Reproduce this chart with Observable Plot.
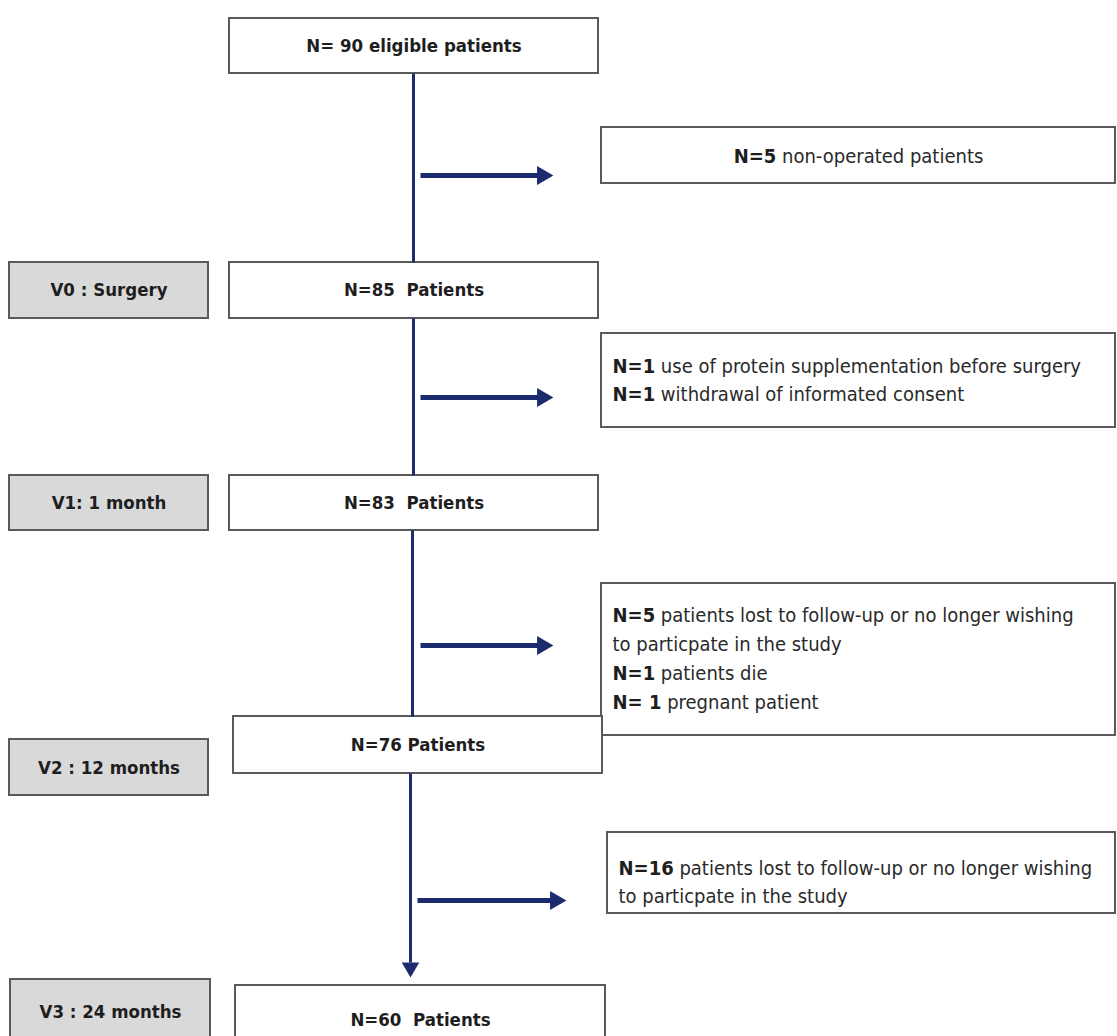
<!DOCTYPE html>
<html>
<head>
<meta charset="utf-8">
<script src="https://cdn.jsdelivr.net/npm/d3@7"></script>
<script src="https://cdn.jsdelivr.net/npm/@observablehq/plot@0.6"></script>
<style>
  html, body { margin: 0; padding: 0; background: #fff; overflow: hidden; }
</style>
</head>
<body>
<div id="chart"></div>
<script>
// ---------- content ----------
const mainLabels = ["N= 90 eligible patients", "N=85  Patients", "N=83  Patients", "N=76 Patients", "N=60  Patients"];
const visitLabels = ["V0 : Surgery", "V1: 1 month", "V2 : 12 months", "V3 : 24 months"];
const exclusionBold = [
  ["N=5"],
  ["N=1", "N=1"],
  ["N=5", "", "N=1", "N= 1"],
  ["N=16", ""]
];
const exclusionRest = [
  ["non-operated patients"],
  ["use of protein supplementation before surgery", "withdrawal of informated consent"],
  ["patients lost to follow-up or no longer wishing", "to particpate in the study", "patients die", "pregnant patient"],
  ["patients lost to follow-up or no longer wishing", "to particpate in the study"]
];

// ---------- layout (pixel units of the 1117 x 1036 canvas) ----------
const W = 1117, H = 1036;
const mainBoxX = [[229, 598], [229, 598], [229, 598], [233, 602], [235, 605]];
const mainBoxY = [[18, 73], [262, 318], [475, 530], [716, 773], [985, 1045]];
const mainTextY = [46, 290, 503, 745, 1020];
const visitBoxX = [[9, 208], [9, 208], [9, 208], [10, 210]];
const visitBoxY = [[262, 318], [475, 530], [739, 795], [979, 1045]];
const visitTextY = [290, 503, 768, 1012];
const sideBoxX = [[601, 1115], [601, 1115], [601, 1115], [607, 1115]];
const sideBoxY = [[127, 183], [333, 427], [583, 735], [832, 913]];
const sideLineY = [[156], [366, 394], [615, 644, 673, 702], [868, 896]];
const trunkX = [413, 413, 412, 410];
const trunkY = [[73, 262], [318, 475], [530, 716], [773, 962]];
const branchY = [175, 397, 645, 900];
const branchX = [[420, 540], [420, 540], [420, 540], [417, 552]];
const branchTip = [553, 553, 553, 566];

const navy = "#1c2b6e";
const border = "#5a5a5a";
const FONT = '"Liberation Sans Narrow", "DejaVu Sans Condensed", "Open Sans", sans-serif';
const SIDE_SIZE = 20;
const MAIN_SIZE = 18.5;

// tables built from the arrays
const mainRows = mainLabels.map((label, i) => ({label, x1: mainBoxX[i][0], x2: mainBoxX[i][1], y1: mainBoxY[i][0], y2: mainBoxY[i][1], ty: mainTextY[i]}));
const visitRows = visitLabels.map((label, i) => ({label, x1: visitBoxX[i][0], x2: visitBoxX[i][1], y1: visitBoxY[i][0], y2: visitBoxY[i][1], ty: visitTextY[i]}));
const sideRows = sideBoxX.map((bx, i) => ({x1: bx[0], x2: bx[1], y1: sideBoxY[i][0], y2: sideBoxY[i][1]}));

const ctx = document.createElement("canvas").getContext("2d");
function measure(str, weight) {
  ctx.font = `${weight} ${SIDE_SIZE}px ${FONT}`;
  return ctx.measureText(str).width;
}
const sideText = [];
exclusionRest.forEach((lines, i) => {
  lines.forEach((rest, j) => {
    const bold = exclusionBold[i][j];
    const tx = sideBoxX[i][0] + 11;
    const restX = bold ? tx + measure(bold, "bold") + measure(" ", "normal") : tx;
    sideText.push({bold, rest, tx, restX, ty: sideLineY[i][j]});
  });
});
// first exclusion box: text centred
{
  const tot = measure(exclusionBold[0][0], "bold") + measure(" " + exclusionRest[0][0], "normal");
  const cx = (sideBoxX[0][0] + sideBoxX[0][1]) / 2;
  sideText[0].tx = cx - tot / 2;
  sideText[0].restX = sideText[0].tx + measure(exclusionBold[0][0], "bold") + measure(" ", "normal");
}

const trunks = trunkX.map((x, i) => ({x, y1: trunkY[i][0], y2: trunkY[i][1]}));
const branches = branchY.map((y, i) => ({y, x1: branchX[i][0], x2: branchX[i][1], tip: branchTip[i]}));

const chart = Plot.plot({
  width: W,
  height: H,
  margin: 0,
  x: {domain: [0, W], axis: null},
  y: {domain: [H, 0], axis: null},
  style: {fontFamily: FONT, background: "#fff"},
  marks: [
    Plot.rect(sideRows, {x1: "x1", x2: "x2", y1: "y1", y2: "y2", fill: "#fff", stroke: border, strokeWidth: 2}),
    Plot.rect(mainRows, {x1: "x1", x2: "x2", y1: "y1", y2: "y2", fill: "#fff", stroke: border, strokeWidth: 2}),
    Plot.rect(visitRows, {x1: "x1", x2: "x2", y1: "y1", y2: "y2", fill: "#d9d9d9", stroke: border, strokeWidth: 2}),
    Plot.link(trunks, {x1: "x", x2: "x", y1: "y1", y2: "y2", stroke: navy, strokeWidth: 3}),
    Plot.dot([trunks[3]], {x: "x", y: "y2", symbol: "triangle", r: 6.5, rotate: 180, fill: navy, stroke: "none", dy: 5}),
    Plot.link(branches, {x1: "x1", x2: "x2", y1: "y", y2: "y", stroke: navy, strokeWidth: 5}),
    Plot.dot(branches, {x: "tip", y: "y", symbol: "triangle", r: 7, rotate: 90, fill: navy, stroke: "none", dx: -11}),
    Plot.text(mainRows, {x: d => (d.x1 + d.x2) / 2, y: "ty", text: "label", fontWeight: "bold", fontSize: MAIN_SIZE, fill: "#1e1e1e", lineAnchor: "middle"}),
    Plot.text(visitRows, {x: d => (d.x1 + d.x2) / 2, y: "ty", text: "label", fontWeight: "bold", fontSize: MAIN_SIZE, fill: "#1e1e1e", lineAnchor: "middle"}),
    Plot.text(sideText.filter(d => d.bold), {x: "tx", y: "ty", text: "bold", fontWeight: "bold", fontSize: SIDE_SIZE, fill: "#1e1e1e", textAnchor: "start", lineAnchor: "middle"}),
    Plot.text(sideText, {x: "restX", y: "ty", text: "rest", fontSize: SIDE_SIZE, fill: "#2a2a2a", textAnchor: "start", lineAnchor: "middle"})
  ]
});
document.getElementById("chart").append(chart);
</script>
</body>
</html>
